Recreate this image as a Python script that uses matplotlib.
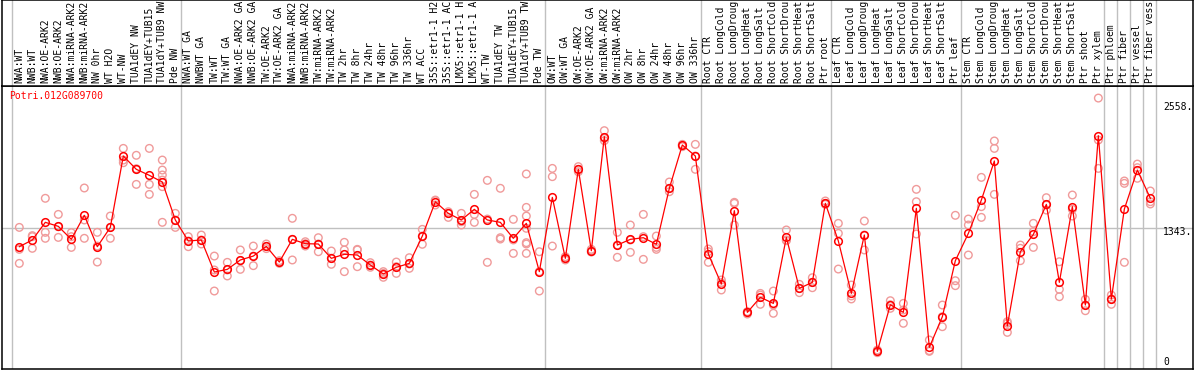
import matplotlib
matplotlib.use("Agg")
import matplotlib.pyplot as plt

# ----------------------------
# DATA
# ----------------------------
gene = "Potri.012G089700"

labels = [
    "NWA:WT", "NWB:WT", "NWA:OE-ARK2", "NWB:OE-ARK2", "NWA:miRNA-ARK2",
    "NWB:miRNA-ARK2", "NW 0hr", "WT H2O", "WT-NW", "TUA1dEY NW",
    "TUA1dEY+TUB15", "TUA1dY+TUB9 NW", "Pde NW",
    "NWA:WT GA", "NWBWT GA", "TW:WT", "TW:WT GA", "NWA:OE-ARK2 GA",
    "NWB:OE-ARK2 GA", "TW:OE-ARK2", "TW:OE-ARK2 GA", "NWA:miRNA-ARK2",
    "NWB:miRNA-ARK2", "TW:miRNA-ARK2", "TW:miRNA-ARK2", "TW 2hr", "TW 8hr",
    "TW 24hr", "TW 48hr", "TW 96hr", "TW 336hr", "WT ACC", "35S::etr1-1 H2",
    "35S::etr1-1 AC", "LMX5::etr1-1 H", "LMX5::etr1-1 A", "WT-TW",
    "TUA1dEY TW", "TUA1dEY+TUB15", "TUA1dY+TUB9 TW", "Pde TW",
    "OW:WT", "OW:WT GA", "OW:OE-ARK2", "OW:OE-ARK2 GA", "OW:miRNA-ARK2",
    "OW:miRNA-ARK2", "OW 2hr", "OW 8hr", "OW 24hr", "OW 48hr", "OW 96hr",
    "OW 336hr",
    "Root CTR", "Root LongCold", "Root LongDroug", "Root LongHeat",
    "Root LongSalt", "Root ShortCold", "Root ShortDrou", "Root ShortHeat",
    "Root ShortSalt", "Ptr root",
    "Leaf CTR", "Leaf LongCold", "Leaf LongDroug", "Leaf LongHeat",
    "Leaf LongSalt", "Leaf ShortCold", "Leaf ShortDrou", "Leaf ShortHeat",
    "Leaf ShortSalt", "Ptr leaf",
    "Stem CTR", "Stem LongCold", "Stem LongDroug", "Stem LongHeat",
    "Stem LongSalt", "Stem ShortCold", "Stem ShortDrou", "Stem ShortHeat",
    "Stem ShortSalt", "Ptr shoot", "Ptr xylem",
    "Ptr phloem", "Ptr fiber", "Ptr vessel", "Ptr fiber vess",
]

group_sizes = [13, 28, 12, 10, 10, 11, 1, 1, 1, 1]

means = [
    1162, 1227, 1398, 1359, 1233, 1466, 1162, 1349, 2041, 1912, 1854, 1789, 1421,
    1217, 1227, 916, 942, 1033, 1071, 1165, 1013, 1233, 1191, 1188, 1049, 1088,
    1081, 984, 897, 962, 1000, 1265, 1598, 1485, 1421, 1524, 1421, 1398, 1243,
    1388, 920,
    1640, 1049, 1912, 1123, 2229, 1178, 1233, 1249, 1185, 1728, 2148, 2041,
    1091, 800, 1511, 525, 671, 612, 1252, 758, 816, 1582,
    1217, 709, 1275, 147, 599, 525, 1534, 186, 483, 1026,
    1291, 1614, 1993, 393, 1113, 1281, 1572, 816, 1550, 596, 2238,
    654, 1527, 1905, 1631,
]

replicates = [
    [1349, 1136, 1000], [1269, 1259, 1146], [1631, 1301, 1243], [1475, 1356, 1252],
    [1298, 1259, 1155], [1731, 1421, 1243], [1301, 1168, 1013], [1459, 1349, 1243],
    [2115, 2002, 1976], [2048, 1918, 1766], [2115, 1766, 1669],
    [2002, 1905, 1857, 1808, 1744, 1398], [1485, 1421, 1349],
    [1259, 1217, 1162], [1275, 1227, 1188], [1071, 936, 732], [1010, 936, 878],
    [1130, 1026, 942], [1168, 1071, 978], [1188, 1165, 1143], [1026, 1013, 1000],
    [1437, 1233, 1033], [1210, 1191, 1168], [1249, 1188, 1113], [1120, 1049, 991],
    [1204, 1130, 920], [1136, 1130, 968], [1007, 984, 962], [920, 903, 865],
    [1013, 968, 903], [1055, 994, 952], [1330, 1265, 1185], [1614, 1608, 1566],
    [1501, 1485, 1446], [1485, 1404, 1372], [1669, 1475, 1398], [1805, 1430, 1010],
    [1728, 1249, 1236], [1427, 1227, 1097],
    [1867, 1543, 1459, 1340, 1201, 1188, 1097], [1113, 920, 732],
    [1921, 1841, 1168], [1065, 1049, 1033], [1938, 1912, 1889], [1136, 1123, 1110],
    [2287, 2212, 2190], [1301, 1178, 1059], [1372, 1227, 1107], [1475, 1259, 1039],
    [1265, 1155, 1136], [1789, 1728, 1695], [2154, 2148, 2132], [2154, 2041, 1912],
    [1139, 1114, 1010], [839, 813, 742], [1592, 1582, 1372], [532, 525, 509],
    [709, 693, 603], [732, 596, 516], [1324, 1227, 1220], [797, 758, 716],
    [861, 816, 764], [1605, 1582, 1572],
    [1388, 1291, 945], [790, 684, 655], [1411, 1275, 1130], [160, 147, 134],
    [638, 599, 564], [612, 548, 419], [1718, 1598, 1285], [257, 154, 147],
    [596, 483, 386], [1466, 832, 784],
    [1430, 1372, 1081], [1834, 1550, 1446], [2187, 2115, 1669], [435, 419, 331],
    [1178, 1146, 1026], [1388, 1307, 1155], [1637, 1566, 1517], [1016, 748, 677],
    [1663, 1524, 1459], [651, 596, 541], [2603, 2196, 1921],
    [693, 654, 603], [1799, 1776, 1010], [1963, 1928, 1825], [1702, 1598, 1576],
]

scale_values = [2558, 1343, 0]

# ----------------------------
# FIGURE
# ----------------------------
mono = "DejaVu Sans Mono"
grey = "#c0c0c0"
pink = "#f09a9a"

fig = plt.figure(figsize=(11.94, 3.70), dpi=100)
ax = fig.add_axes([0.00126, 0.00405, 0.9979, 0.7635])
ax_top = fig.add_axes([0.00126, 0.7676, 0.9979, 0.2311])

xlim = (-1.37, 90.28)
for a in (ax, ax_top):
    a.set_xlim(xlim)
    a.set_xticks([])
    a.set_yticks([])
    for s in a.spines.values():
        s.set_color("black")
        s.set_linewidth(1.1)
ax.set_ylim(-19.4, 2720)
ax_top.set_ylim(0, 1)

# group separators
bounds = [-0.6]
pos = -0.6
for g in group_sizes:
    pos += g
    bounds.append(pos)
for b in bounds:
    ax.axvline(b, color=grey, lw=1, zorder=0)
    ax_top.axvline(b, color=grey, lw=1, zorder=0)

ax.axhline(scale_values[1], color=grey, lw=1, zorder=0)

# replicate points
for i, reps in enumerate(replicates):
    ax.scatter([i] * len(reps), reps, s=30, facecolors="none",
               edgecolors=pink, linewidths=1, zorder=2)

# mean line
x = list(range(len(means)))
ax.plot(x, means, color="red", lw=0.9, marker="o", ms=5.5,
        mfc="none", mec="red", mew=1.1, zorder=3)

# column labels
for i, lab in enumerate(labels):
    ax_top.text(i, 0.03, lab, rotation=90, ha="center", va="bottom",
                family=mono, fontsize=7, color="black", clip_on=True)

# gene name
ax.text(0.0063, 0.965, gene, transform=ax.transAxes, ha="left", va="center",
        family=mono, fontsize=7, color="red")

# scale labels on the right
offsets = [-4, -4, 5]
for v, off in zip(scale_values, offsets):
    txt = f"{v}." if v != 0 else "0"
    ax.annotate(txt, xy=(0.9748, v), xycoords=ax.get_yaxis_transform(),
                xytext=(0, off), textcoords="offset pixels",
                ha="left", va="center", family=mono, fontsize=7)

plt.savefig("out.png", dpi=100)
